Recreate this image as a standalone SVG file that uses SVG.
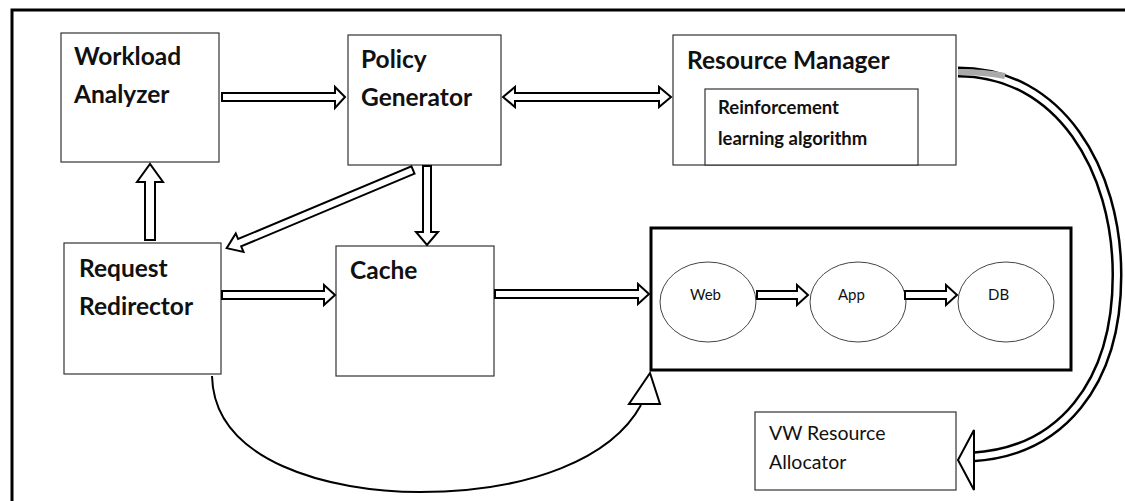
<svg xmlns="http://www.w3.org/2000/svg" width="1125" height="501" viewBox="0 0 1125 501">
<style>
.box{fill:#fff;stroke:#333;stroke-width:1.2}
.bt{font-family:Lato,"Liberation Sans",sans-serif;font-weight:bold;font-size:24.5px;fill:#111}
.st{font-family:Lato,"Liberation Sans",sans-serif;font-weight:bold;font-size:18.5px;fill:#111}
.nt{font-family:Lato,"Liberation Sans",sans-serif;font-size:19.5px;fill:#111}
.et{font-family:Lato,"Liberation Sans",sans-serif;font-size:15px;fill:#111}
.ha{fill:#fff;stroke:#000;stroke-width:2;stroke-linejoin:miter}
.ell{fill:#fff;stroke:#444;stroke-width:1}
</style>
<rect width="1125" height="501" fill="#fff"/>
<path d="M12 501 V10 H1125" fill="none" stroke="#000" stroke-width="3"/>

<g id="workload-analyzer">
<rect class="box" x="61" y="33" width="158" height="129"/>
<text class="bt" x="74" y="65">Workload</text>
<text class="bt" x="74" y="103">Analyzer</text>
</g>
<g id="policy-generator">
<rect class="box" x="348" y="35" width="153" height="130"/>
<text class="bt" x="361" y="68">Policy</text>
<text class="bt" x="361" y="106">Generator</text>
</g>
<g id="resource-manager">
<rect class="box" x="673" y="35" width="283" height="130"/>
<text class="bt" x="687" y="69">Resource Manager</text>
<rect class="box" x="705" y="89" width="213" height="76"/>
<text class="st" x="718" y="114">Reinforcement</text>
<text class="st" x="718" y="145">learning algorithm</text>
</g>
<g id="request-redirector">
<rect class="box" x="64" y="243" width="157" height="131"/>
<text class="bt" x="79" y="277">Request</text>
<text class="bt" x="79" y="315">Redirector</text>
</g>
<g id="cache">
<rect class="box" x="336" y="246" width="158" height="130"/>
<text class="bt" x="350" y="279">Cache</text>
</g>
<g id="tiers">
<rect x="651" y="228" width="420" height="142" fill="#fff" stroke="#000" stroke-width="3"/>
<g id="web"><ellipse class="ell" cx="708" cy="302" rx="48" ry="40"/><text class="et" x="690" y="300">Web</text></g>
<g id="app"><ellipse class="ell" cx="858" cy="302" rx="48" ry="40"/><text class="et" x="838" y="300">App</text></g>
<g id="db"><ellipse class="ell" cx="1006" cy="302" rx="48" ry="40"/><text class="et" x="988" y="300">DB</text></g>
</g>
<g id="vw-resource-allocator">
<rect class="box" x="755" y="412" width="201" height="78"/>
<text class="nt" x="769" y="440">VW Resource</text>
<text class="nt" x="769" y="469">Allocator</text>
</g>

<g id="connectors">
<polygon class="ha" points="222,93 335,93 335,87 345,97 335,108 335,101 222,101"/>
<polygon class="ha" points="503,97 515,87 515,93 659,93 659,87 671,97 659,107 659,101 515,101 515,107"/>
<polygon class="ha" points="145,240 145,182 137,182 150,164 163,182 155,182 155,240"/>
<polygon class="ha" points="423,166 431,166 431,232 438,232 427,245 416,232 423,232"/>
<polygon class="ha" transform="translate(413,170) rotate(157.25)" points="0,-4 188,-4 188,-10 202,0 188,10 188,4 0,4"/>
<polygon class="ha" points="222,291 324,291 324,285 335,295 324,305 324,299 222,299"/>
<polygon class="ha" points="495,290 638,290 638,284 649,294 638,304 638,298 495,298"/>
<polygon class="ha" points="757,291 797,291 797,285 808,295 797,305 797,299 757,299"/>
<polygon class="ha" points="905,291 946,291 946,285 957,295 946,305 946,299 905,299"/>
<path d="M212 376 C214 462 330 492 420 492 C530 492 612 458 641 405" fill="none" stroke="#000" stroke-width="2"/>
<polygon class="ha" points="650,373 629,404 660,404"/>
<path d="M958 72 C1060 72 1117 170 1117 275 C1117 385 1060 452 972 457" fill="none" stroke="#000" stroke-width="11"/>
<path d="M958 72 C1060 72 1117 170 1117 275 C1117 385 1060 452 972 457" fill="none" stroke="#fff" stroke-width="6"/>
<path d="M958 72 C975 72 990 73 1005 76" fill="none" stroke="#aaa" stroke-width="6"/>
<polygon class="ha" points="958,460 974,430 974,490"/>
</g>
</svg>
